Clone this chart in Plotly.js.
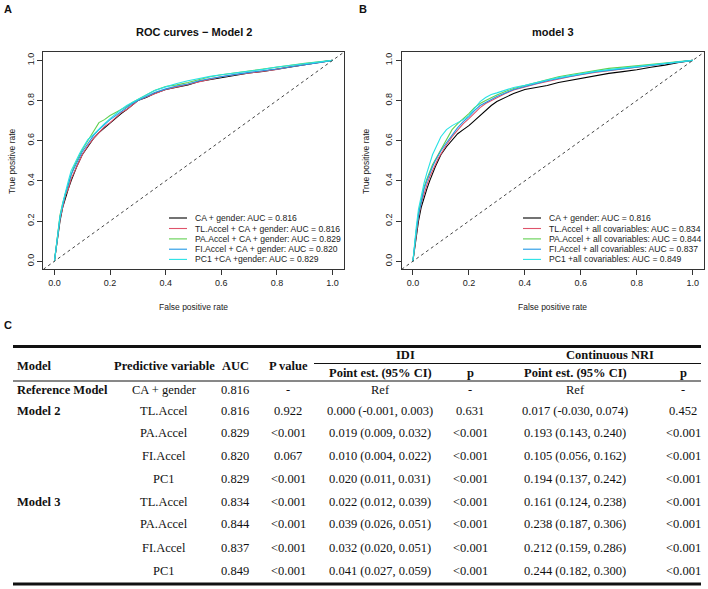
<!DOCTYPE html>
<html><head><meta charset="utf-8">
<script src="https://cdn.plot.ly/plotly-3.0.1.min.js"></script>
<style>html,body{margin:0;padding:0;background:#fff}#chart{width:708px;height:589px}</style>
</head><body><div id="chart"></div>
<script>
// ---------- ROC data ----------
const fprGrid = [0, 0.005, 0.012, 0.02, 0.03, 0.04, 0.05, 0.06, 0.07, 0.08, 0.09, 0.1, 0.12, 0.14, 0.16, 0.18, 0.2, 0.22, 0.24, 0.26, 0.28, 0.3, 0.33, 0.36, 0.4, 0.44, 0.48, 0.52, 0.56, 0.6, 0.65, 0.7, 0.75, 0.8, 0.85, 0.9, 0.95, 1.0];

// Model 2 panel
const m2_CA  = [0, 0.05, 0.12, 0.20, 0.27, 0.32, 0.36, 0.40, 0.44, 0.47, 0.50, 0.53, 0.57, 0.61, 0.64, 0.665, 0.69, 0.715, 0.735, 0.755, 0.78, 0.80, 0.815, 0.835, 0.855, 0.868, 0.878, 0.895, 0.905, 0.915, 0.928, 0.937, 0.945, 0.955, 0.968, 0.978, 0.99, 1.0];
const m2_TL  = [0, 0.05, 0.12, 0.21, 0.27, 0.33, 0.36, 0.41, 0.44, 0.475, 0.50, 0.53, 0.575, 0.61, 0.64, 0.67, 0.69, 0.715, 0.74, 0.755, 0.78, 0.80, 0.818, 0.835, 0.855, 0.868, 0.88, 0.895, 0.905, 0.918, 0.928, 0.937, 0.947, 0.955, 0.968, 0.978, 0.99, 1.0];
const m2_PA  = [0, 0.06, 0.14, 0.23, 0.29, 0.34, 0.38, 0.43, 0.47, 0.50, 0.53, 0.555, 0.60, 0.645, 0.69, 0.705, 0.725, 0.74, 0.755, 0.77, 0.79, 0.805, 0.825, 0.85, 0.87, 0.878, 0.89, 0.905, 0.918, 0.928, 0.938, 0.947, 0.955, 0.965, 0.975, 0.985, 0.993, 1.0];
const m2_FI  = [0, 0.06, 0.13, 0.22, 0.28, 0.34, 0.38, 0.43, 0.46, 0.49, 0.52, 0.545, 0.585, 0.625, 0.655, 0.68, 0.705, 0.725, 0.745, 0.765, 0.785, 0.80, 0.818, 0.84, 0.858, 0.872, 0.882, 0.898, 0.91, 0.92, 0.93, 0.94, 0.948, 0.957, 0.968, 0.977, 0.988, 1.0];
const m2_PC1 = [0, 0.06, 0.14, 0.22, 0.29, 0.35, 0.40, 0.45, 0.48, 0.51, 0.535, 0.56, 0.605, 0.63, 0.66, 0.685, 0.71, 0.735, 0.755, 0.775, 0.79, 0.805, 0.825, 0.85, 0.868, 0.885, 0.898, 0.91, 0.92, 0.928, 0.937, 0.945, 0.955, 0.967, 0.975, 0.985, 0.993, 1.0];

// Model 3 panel
const m3_CA  = [0, 0.05, 0.12, 0.20, 0.27, 0.32, 0.36, 0.40, 0.44, 0.47, 0.50, 0.53, 0.57, 0.605, 0.635, 0.655, 0.675, 0.70, 0.725, 0.75, 0.775, 0.795, 0.815, 0.835, 0.855, 0.865, 0.875, 0.89, 0.9, 0.91, 0.925, 0.935, 0.944, 0.953, 0.966, 0.976, 0.99, 1.0];
const m3_TL  = [0, 0.06, 0.14, 0.22, 0.29, 0.34, 0.38, 0.42, 0.455, 0.48, 0.51, 0.535, 0.58, 0.62, 0.655, 0.685, 0.71, 0.74, 0.765, 0.785, 0.80, 0.815, 0.835, 0.852, 0.868, 0.882, 0.895, 0.908, 0.918, 0.928, 0.94, 0.948, 0.956, 0.965, 0.975, 0.983, 0.992, 1.0];
const m3_PA  = [0, 0.07, 0.15, 0.24, 0.31, 0.37, 0.41, 0.45, 0.48, 0.505, 0.53, 0.555, 0.61, 0.655, 0.685, 0.71, 0.735, 0.765, 0.785, 0.80, 0.815, 0.828, 0.845, 0.86, 0.875, 0.89, 0.905, 0.918, 0.928, 0.938, 0.95, 0.96, 0.966, 0.972, 0.98, 0.987, 0.994, 1.0];
const m3_FI  = [0, 0.07, 0.15, 0.23, 0.30, 0.36, 0.40, 0.44, 0.47, 0.50, 0.525, 0.55, 0.59, 0.63, 0.665, 0.695, 0.72, 0.75, 0.775, 0.79, 0.805, 0.82, 0.838, 0.855, 0.87, 0.885, 0.898, 0.91, 0.92, 0.93, 0.942, 0.95, 0.958, 0.966, 0.975, 0.984, 0.992, 1.0];
const m3_PC1 = [0, 0.08, 0.17, 0.26, 0.33, 0.39, 0.44, 0.49, 0.53, 0.56, 0.59, 0.62, 0.655, 0.675, 0.69, 0.705, 0.725, 0.76, 0.795, 0.815, 0.83, 0.838, 0.852, 0.865, 0.876, 0.89, 0.902, 0.914, 0.924, 0.933, 0.945, 0.954, 0.962, 0.968, 0.977, 0.985, 0.993, 1.0];

const seriesColors = ['#000000', '#DF536B', '#61D04F', '#2297E6', '#28E2E5'];
const model2Labels = ['CA + gender: AUC = 0.816', 'TL.Accel + CA + gender: AUC = 0.816', 'PA.Accel + CA + gender: AUC = 0.829', 'FI.Accel + CA + gender: AUC = 0.820', 'PC1 +CA +gender: AUC = 0.829'];
const model3Labels = ['CA + gender: AUC = 0.816', 'TL.Accel + all covariables: AUC = 0.834', 'PA.Accel + all covariables: AUC = 0.844', 'FI.Accel + all covariables: AUC = 0.837', 'PC1 +all covariables: AUC = 0.849'];
const axisTicks = [0, 0.2, 0.4, 0.6, 0.8, 1.0];

// ---------- table data ----------
const tblModel = ['Reference Model', 'Model 2', '', '', '', 'Model 3', '', '', ''];
const tblPredictor = ['CA + gender', 'TL.Accel', 'PA.Accel', 'FI.Accel', 'PC1', 'TL.Accel', 'PA.Accel', 'FI.Accel', 'PC1'];
const tblAUC = ['0.816', '0.816', '0.829', '0.820', '0.829', '0.834', '0.844', '0.837', '0.849'];
const tblP = ['-', '0.922', '<0.001', '0.067', '<0.001', '<0.001', '<0.001', '<0.001', '<0.001'];
const tblIdiEst = ['Ref', '0.000 (-0.001, 0.003)', '0.019 (0.009, 0.032)', '0.010 (0.004, 0.022)', '0.020 (0.011, 0.031)', '0.022 (0.012, 0.039)', '0.039 (0.026, 0.051)', '0.032 (0.020, 0.051)', '0.041 (0.027, 0.059)'];
const tblIdiP = ['-', '0.631', '<0.001', '<0.001', '<0.001', '<0.001', '<0.001', '<0.001', '<0.001'];
const tblNriEst = ['Ref', '0.017 (-0.030, 0.074)', '0.193 (0.143, 0.240)', '0.105 (0.056, 0.162)', '0.194 (0.137, 0.242)', '0.161 (0.124, 0.238)', '0.238 (0.187, 0.306)', '0.212 (0.159, 0.286)', '0.244 (0.182, 0.300)'];
const tblNriP = ['-', '0.452', '<0.001', '<0.001', '<0.001', '<0.001', '<0.001', '<0.001', '<0.001'];

// ---------- layout helpers ----------
const W = 708, H = 589;
const px = x => x / W;
const py = y => 1 - y / H;
const esc = s => s.replace(/</g, '&lt;');
const sans = 'Liberation Sans, Arial, sans-serif';
const serif = 'Liberation Serif, Times New Roman, serif';
const txtCol = '#222';

const panels = [
  {xa: 'x', ya: 'y', curves: [m2_CA, m2_TL, m2_PA, m2_FI, m2_PC1], labels: model2Labels,
   title: 'ROC curves \u2212 Model 2', letter: 'A', letterX: 8, titleX: 194, ylabX: 12, xlabX: 194, segX0: 169, segX1: 187, txtX: 193},
  {xa: 'x2', ya: 'y2', curves: [m3_CA, m3_TL, m3_PA, m3_FI, m3_PC1], labels: model3Labels,
   title: 'model 3', letter: 'B', letterX: 363, titleX: 553, ylabX: 366, xlabX: 552, segX0: 523, segX1: 541, txtX: 547}
];
const legendRowsY = [218, 228.5, 238.9, 249.2, 259.4];

const traces = [];
const shapes = [];
const annotations = [];

panels.forEach(p => {
  p.curves.forEach((c, i) => {
    traces.push({type: 'scatter', mode: 'lines', x: fprGrid, y: c, xaxis: p.xa, yaxis: p.ya,
      line: {color: seriesColors[i], width: 1.1}, showlegend: false, hoverinfo: 'skip'});
  });
  // diagonal reference line (abline 0,1)
  shapes.push({type: 'line', xref: p.xa, yref: p.ya, x0: -0.04, y0: -0.04, x1: 1.04, y1: 1.04,
    line: {color: '#444', width: 1, dash: 'dot'}});
  // legend
  p.labels.forEach((lab, i) => {
    shapes.push({type: 'line', xref: 'paper', yref: 'paper', x0: px(p.segX0), x1: px(p.segX1),
      y0: py(legendRowsY[i]), y1: py(legendRowsY[i]), line: {color: seriesColors[i], width: 1.1}});
    annotations.push({xref: 'paper', yref: 'paper', x: px(p.txtX), y: py(legendRowsY[i]), xanchor: 'left', yanchor: 'middle',
      text: lab, showarrow: false, font: {family: sans, size: 8.6, color: txtCol}});
  });
  annotations.push({xref: 'paper', yref: 'paper', x: px(p.titleX), y: py(32), xanchor: 'center', yanchor: 'middle',
    text: p.title, showarrow: false, font: {family: sans, size: 11, color: '#111', weight: 'bold'}});
  annotations.push({xref: 'paper', yref: 'paper', x: px(p.letterX), y: py(9), xanchor: 'center', yanchor: 'middle',
    text: p.letter, showarrow: false, font: {family: sans, size: 11, color: '#111', weight: 'bold'}});
  annotations.push({xref: 'paper', yref: 'paper', x: px(p.ylabX), y: py(161), xanchor: 'center', yanchor: 'middle',
    text: 'True positive rate', textangle: -90, showarrow: false, font: {family: sans, size: 8.5, color: txtCol}});
  annotations.push({xref: 'paper', yref: 'paper', x: px(p.xlabX), y: py(307), xanchor: 'center', yanchor: 'middle',
    text: 'False positive rate', showarrow: false, font: {family: sans, size: 8.5, color: txtCol}});
});

// ---------- table ----------
annotations.push({xref: 'paper', yref: 'paper', x: px(8), y: py(325), xanchor: 'center', yanchor: 'middle',
  text: 'C', showarrow: false, font: {family: sans, size: 11, color: '#111', weight: 'bold'}});

const tLeft = 13, tRight = 701;
const hline = (y, x0, x1, w) => shapes.push({type: 'line', xref: 'paper', yref: 'paper', x0: px(x0), x1: px(x1), y0: py(y), y1: py(y), line: {color: '#111', width: w}});
hline(346.5, tLeft, tRight, 3);
hline(363.5, 314, tRight, 1);
hline(381, tLeft, tRight, 1);
hline(584, tLeft, tRight, 3);

const colX = {model: 15, pred: 164, auc: 235, p: 288, idiEst: 380, idiP: 470, nriEst: 575, nriP: 683};
const rowY = [390.3, 411, 433.3, 455.7, 479, 502.3, 524.3, 547.7, 570.7];
const cell = (x, y, t, bold, anchor) => annotations.push({xref: 'paper', yref: 'paper', x: px(x), y: py(y),
  xanchor: anchor || 'center', yanchor: 'middle', text: esc(t), showarrow: false,
  font: {family: serif, size: 12.5, color: '#111', weight: bold ? 'bold' : 'normal'}});

// headers
cell(colX.model, 366, 'Model', true, 'left');
cell(colX.pred, 366, 'Predictive variable', true);
cell(colX.auc, 366, 'AUC', true);
cell(colX.p, 366, 'P value', true);
cell(405, 355, 'IDI', true);
cell(610, 355, 'Continuous NRI', true);
cell(colX.idiEst, 372.7, 'Point est. (95% CI)', true);
cell(colX.idiP, 372.7, 'p', true);
cell(colX.nriEst, 372.7, 'Point est. (95% CI)', true);
cell(colX.nriP, 372.7, 'p', true);

rowY.forEach((y, i) => {
  if (tblModel[i]) cell(colX.model, y, tblModel[i], true, 'left');
  cell(colX.pred, y, tblPredictor[i]);
  cell(colX.auc, y, tblAUC[i]);
  cell(colX.p, y, tblP[i]);
  cell(colX.idiEst, y, tblIdiEst[i]);
  cell(colX.idiP, y, tblIdiP[i]);
  cell(colX.nriEst, y, tblNriEst[i]);
  cell(colX.nriP, y, tblNriP[i]);
});

// ---------- axes ----------
const axBase = {range: [-0.04, 1.04], tickvals: axisTicks, tickformat: '.1f', showgrid: false, zeroline: false,
  showline: true, mirror: true, linecolor: '#333', linewidth: 1, ticks: 'outside', ticklen: 5, tickwidth: 1,
  tickcolor: '#333', tickfont: {family: sans, size: 9, color: txtCol}, fixedrange: true};
const yDom = [py(269.3), py(52.3)];

const layout = {
  width: W, height: H, autosize: false, margin: {l: 0, r: 0, t: 0, b: 0},
  paper_bgcolor: '#fff', plot_bgcolor: '#fff', showlegend: false,
  xaxis: Object.assign({}, axBase, {domain: [px(43.3), px(343.7)], anchor: 'y'}),
  yaxis: Object.assign({}, axBase, {domain: yDom, anchor: 'x', tickangle: -90}),
  xaxis2: Object.assign({}, axBase, {domain: [px(401.7), px(704)], anchor: 'y2'}),
  yaxis2: Object.assign({}, axBase, {domain: yDom, anchor: 'x2', tickangle: -90}),
  shapes: shapes, annotations: annotations
};

Plotly.newPlot('chart', traces, layout, {staticPlot: true, displayModeBar: false});
</script></body></html>
